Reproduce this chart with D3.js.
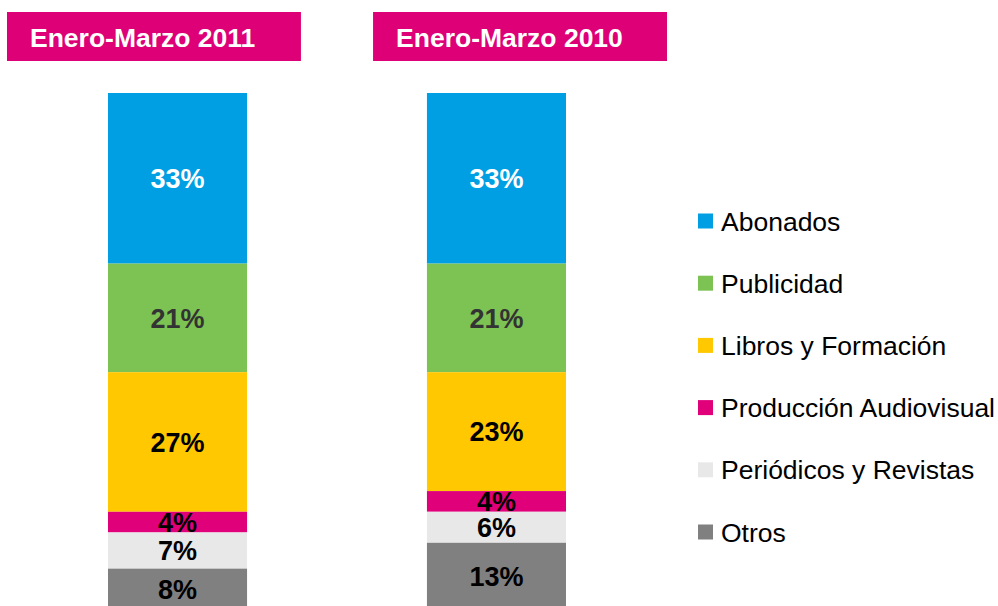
<!DOCTYPE html>
<html>
<head>
<meta charset="utf-8">
<script src="https://cdn.jsdelivr.net/npm/d3@7"></script>
<style>
  body { margin: 0; background: #fff; }
  svg { display: block; font-family: "Liberation Sans", Arial, sans-serif; }
</style>
</head>
<body>
<div id="container"></div>
<script>
const width = 998;
const height = 606;

// Data
const periods = ["Enero-Marzo 2011", "Enero-Marzo 2010"];
const categories = ["Abonados", "Publicidad", "Libros y Formación", "Producción Audiovisual", "Periódicos y Revistas", "Otros"];
const values2011 = [33, 21, 27, 4, 7, 8];
const values2010 = [33, 21, 23, 4, 6, 13];

const colors = ["#009FE3", "#7DC354", "#FFC800", "#E0007A", "#E8E8E8", "#808080"];
const labelColors = ["#ffffff", "#333333", "#000000", "#000000", "#000000", "#000000"];
const headerColor = "#DE0077";

const svg = d3.select("#container")
	.append("svg")
	.attr("width", width)
	.attr("height", height);

// Scales
const x = d3.scaleBand()
	.domain(periods)
	.range([108, 566])
	.paddingInner(0.564);

const xHeader = d3.scaleBand()
	.domain(periods)
	.range([7, 667])
	.paddingInner(0.197);

// 100% spans from top of bars to just past the bottom edge (bars are cropped)
const y = d3.scaleLinear()
	.domain([0, 100])
	.range([93, 610]);

const color = d3.scaleOrdinal().domain(categories).range(colors);
const labelColor = d3.scaleOrdinal().domain(categories).range(labelColors);

// Build stacked segments
const table = periods.map((p, i) => {
	const row = { period: p };
	const vals = i === 0 ? values2011 : values2010;
	categories.forEach((c, j) => row[c] = vals[j]);
	return row;
});

const stack = d3.stack().keys(categories);
const series = stack(table);

// Header boxes
const headers = svg.append("g").selectAll("g")
	.data(periods)
	.enter()
	.append("g");

headers.append("rect")
	.attr("x", d => xHeader(d))
	.attr("y", 12)
	.attr("width", xHeader.bandwidth())
	.attr("height", 49)
	.attr("fill", headerColor);

headers.append("text")
	.attr("x", d => xHeader(d) + 23)
	.attr("y", 47)
	.attr("fill", "#fff")
	.attr("font-weight", "bold")
	.attr("font-size", 26.5)
	.text(d => d);

// Bars
const layers = svg.append("g").selectAll("g")
	.data(series)
	.enter()
	.append("g")
	.attr("fill", d => color(d.key));

layers.selectAll("rect")
	.data(d => d.map(s => ({ key: d.key, s: s })))
	.enter()
	.append("rect")
	.attr("x", d => x(d.s.data.period))
	.attr("y", d => y(d.s[0]))
	.attr("width", x.bandwidth())
	.attr("height", d => y(d.s[1]) - y(d.s[0]));

// Value labels
layers.selectAll("text")
	.data(d => d.map(s => ({ key: d.key, s: s })))
	.enter()
	.append("text")
	.attr("x", d => x(d.s.data.period) + x.bandwidth() / 2)
	.attr("y", d => (y(d.s[0]) + y(d.s[1])) / 2)
	.attr("dy", "0.36em")
	.attr("text-anchor", "middle")
	.attr("font-weight", "bold")
	.attr("font-size", 27)
	.attr("fill", d => labelColor(d.key))
	.text(d => (d.s[1] - d.s[0]) + "%");

// Legend
const legendY = d3.scalePoint()
	.domain(categories)
	.range([221, 532]);

const legend = svg.append("g").selectAll("g")
	.data(categories)
	.enter()
	.append("g")
	.attr("transform", d => "translate(698," + legendY(d) + ")");

legend.append("rect")
	.attr("x", 0)
	.attr("y", -7.5)
	.attr("width", 15)
	.attr("height", 15)
	.attr("fill", d => color(d));

legend.append("text")
	.attr("x", 23)
	.attr("dy", "0.36em")
	.attr("font-size", 26.5)
	.attr("fill", "#000")
	.text(d => d);
</script>
</body>
</html>
